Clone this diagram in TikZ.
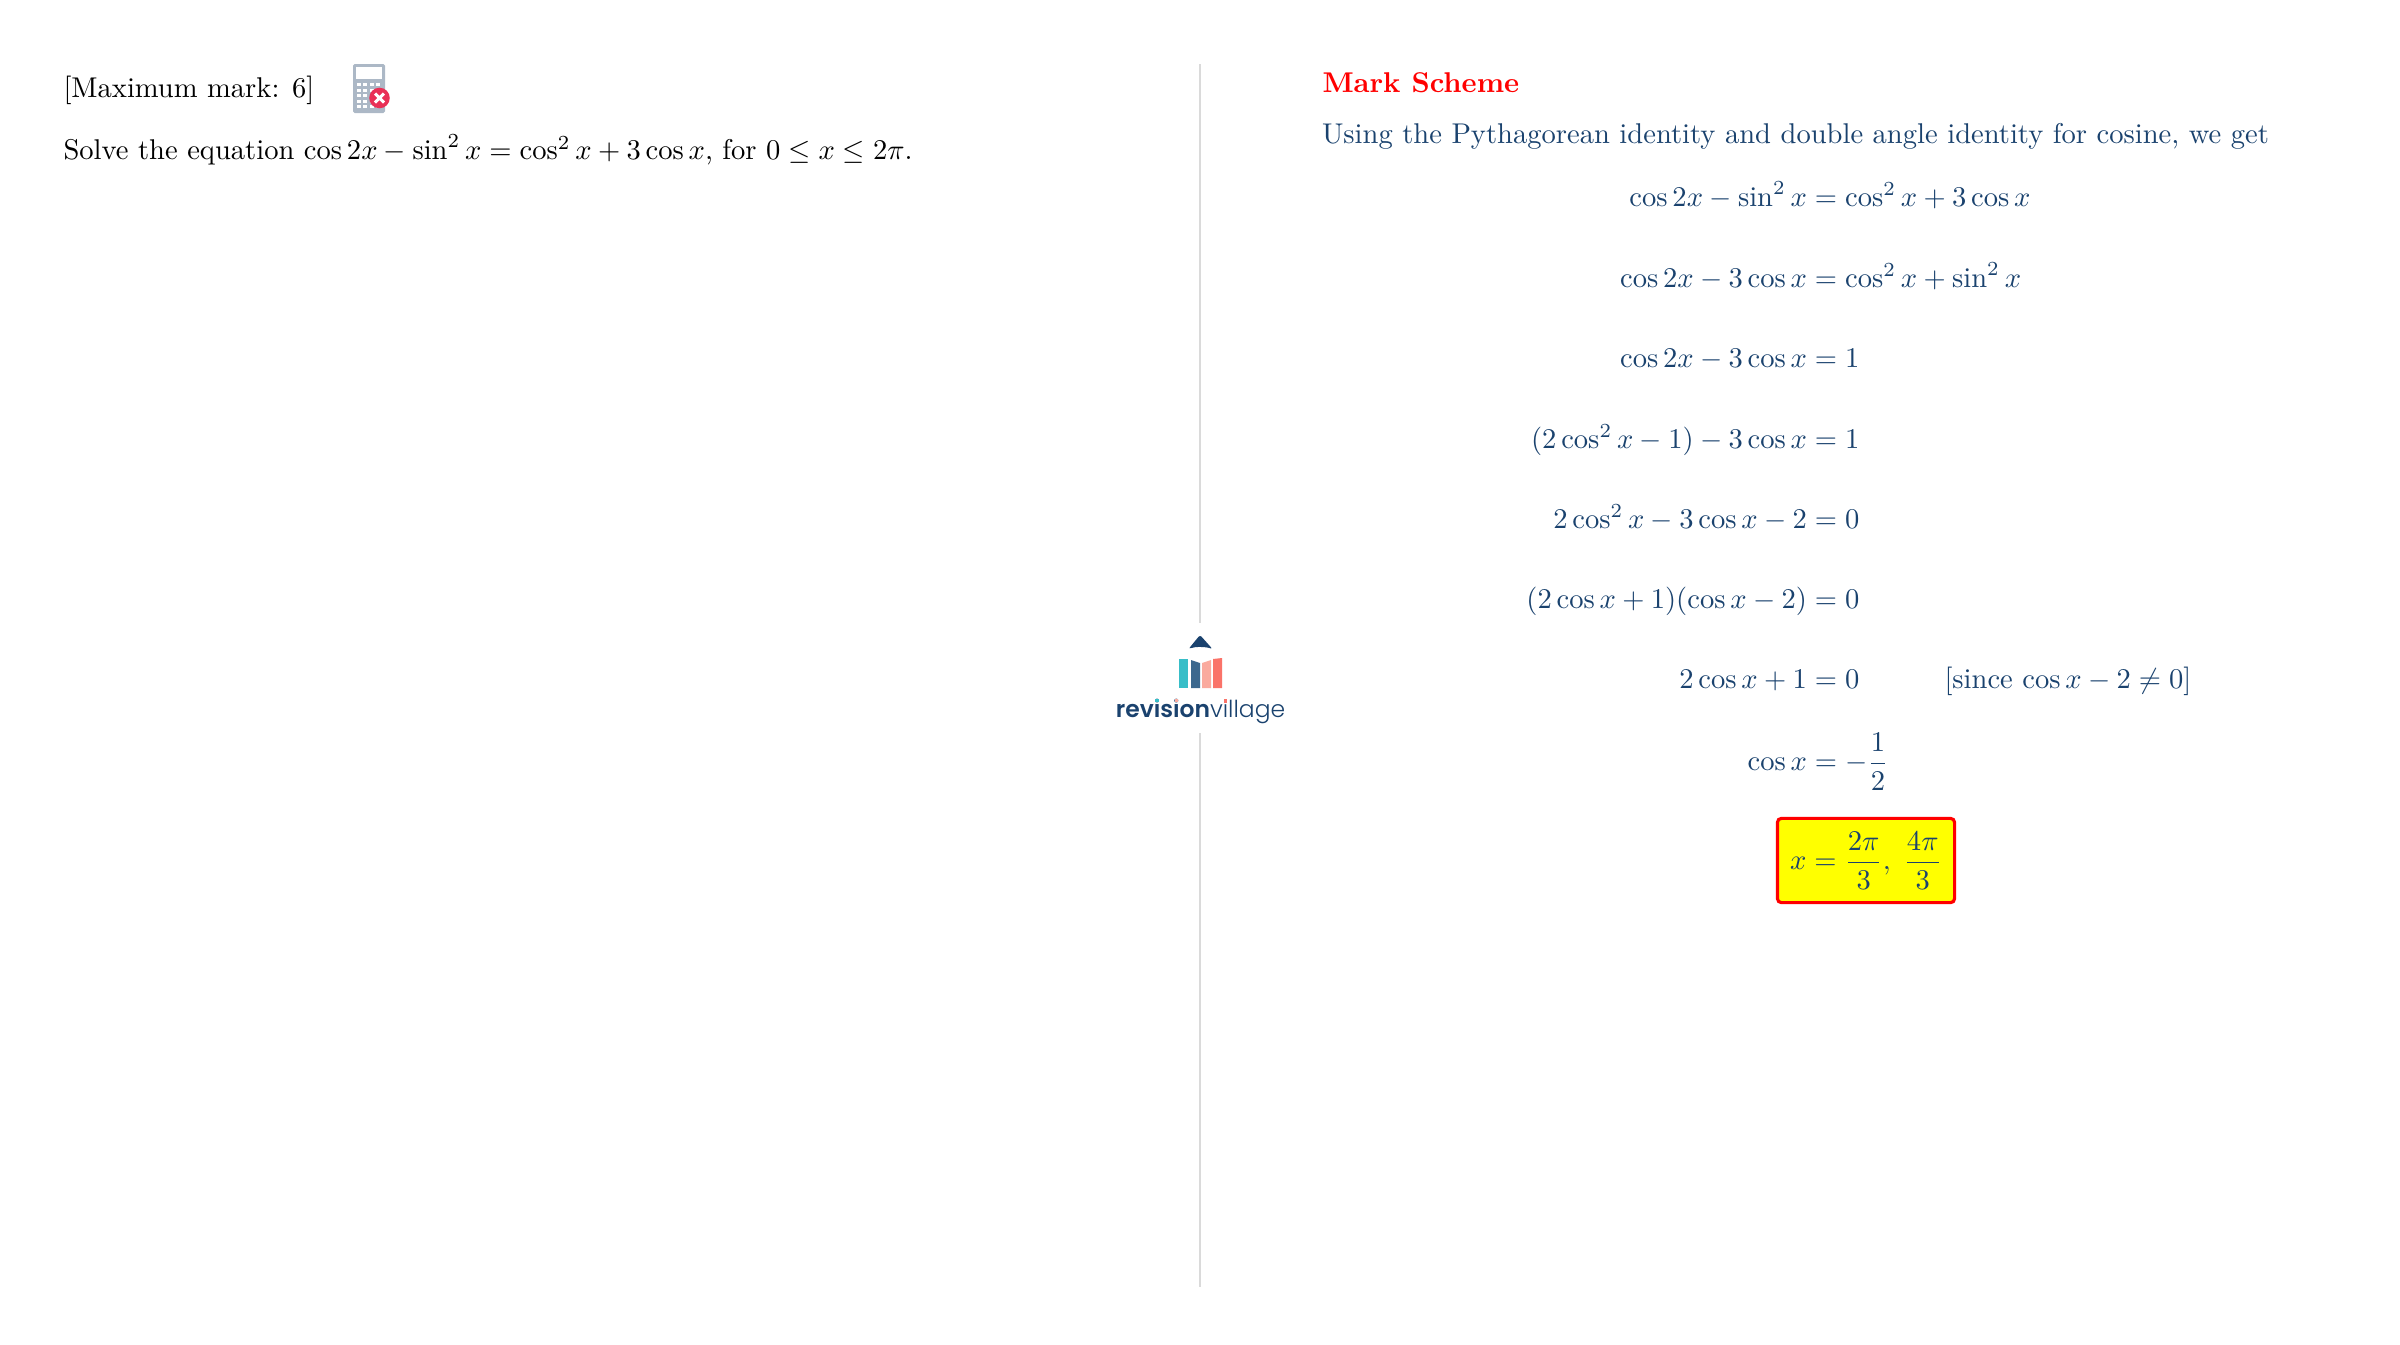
\documentclass[tikz,border=0pt]{standalone}
\usepackage{amsmath}
\usepackage{fontspec}
\usetikzlibrary{positioning}
\newfontfamily\logofont[UprightFont={* Light}, BoldFont={* SemiBold}]{Poppins}
\definecolor{schemeblue}{RGB}{26,66,110}
\definecolor{rulegray}{RGB}{218,218,218}
\definecolor{calcgray}{RGB}{172,184,198}
\definecolor{calcred}{RGB}{233,48,86}
\definecolor{logoteal}{RGB}{56,190,200}
\definecolor{logoblue}{RGB}{60,104,142}
\definecolor{logopink}{RGB}{250,170,158}
\definecolor{logocoral}{RGB}{250,115,105}
\definecolor{answeryellow}{RGB}{255,255,0}
\definecolor{headred}{RGB}{255,0,0}
\newcommand{\logoi}[1]{\sbox0{i}\rlap{i}\hbox to \wd0{\hss\raisebox{\dimexpr\ht0-1.2pt\relax}{\textcolor{#1}{\rule{1.2pt}{1.2pt}}}\hss}}
\tikzset{
        base/.style={inner sep=0pt, outer sep=0pt},
        plain/.style={base, anchor=base west},
        lhs/.style={base, anchor=base east, text=schemeblue},
        rhs/.style={base, anchor=base west, text=schemeblue},
        answer/.style={draw=headred, fill=answeryellow, line width=1.1pt, rounded corners=1.4pt,
                       text=schemeblue, inner sep=0pt, minimum width=62pt, minimum height=29.5pt},
        logotext/.style={base, anchor=base, text=schemeblue, font=\logofont\fontsize{8.2}{10}\selectfont},
}

\begin{document}
\begin{tikzpicture}[x=0.35pt, y=-0.35pt]
    \useasboundingbox (0,0) rectangle (2400,1345);

    % question side
    \node[plain] (mark) at (63.5,97.5) {[Maximum mark: 6]};
    \node[plain] (question) at (63.5,159.5) {Solve the equation $\cos 2x-\sin^2 x=\cos^2 x+3\cos x$, for $0\leq x\leq 2\pi$.};

    % calculator with cross
    \fill[calcgray, rounded corners=0.6pt] (353,64) rectangle (385,113);
    \fill[white] (356,67) rectangle (382,79);
    \foreach \row in {0,...,4}
      \foreach \col in {0,...,3}
        \fill[white] (357+6.4*\col,83+5.6*\row) rectangle ++(3.8,3);
    \fill[calcred] (379.5,98) circle [radius=3.6pt];
    \draw[white, line width=1pt] (375,93.5) -- (384,102.5) (384,93.5) -- (375,102.5);

    % middle rule and logo
    \coordinate (ruleA) at (1200,64);
    \coordinate (ruleB) at (1200,623);
    \coordinate (ruleC) at (1200,733);
    \coordinate (ruleD) at (1200,1287);
    \draw[rulegray, line width=0.4pt] (ruleA) -- (ruleB);
    \draw[rulegray, line width=0.4pt] (ruleC) -- (ruleD);

    \fill[schemeblue, rounded corners=0.8pt] (1200,635) -- (1212.5,649) .. controls (1205,646.5) and (1195,646.5) .. (1188.5,649) -- cycle;
    \fill[logoteal] (1179,659) rectangle (1188,688);
    \fill[logoblue] (1191,660) -- (1200,663) -- (1200,688) -- (1191,688) -- cycle;
    \fill[logopink] (1202,663) -- (1211,660) -- (1211,688) -- (1202,688) -- cycle;
    \fill[logocoral] (1213,659) -- (1222,658) -- (1222,688) -- (1213,688) -- cycle;
    \node[logotext] (logo) at (1200.5,717) {{\bfseries rev\logoi{logoteal}s\logoi{logopink}on}v\logoi{logocoral}llage};

    % mark scheme side
    \node[plain, text=headred] (scheme) at (1322.5,92) {\textbf{Mark Scheme}};
    \node[plain, text=schemeblue] (intro) at (1322,143) {Using the Pythagorean identity and double angle identity for cosine, we get};

    \node[lhs] (l1) at (1807,206) {$\cos 2x-\sin^2 x$};
    \node[rhs] (r1) at (1807,206) {${}=\cos^2 x+3\cos x$};
    \node[lhs] (l2) at (1807,287) {$\cos 2x-3\cos x$};
    \node[rhs] (r2) at (1807,287) {${}=\cos^2 x+\sin^2 x$};
    \node[lhs] (l3) at (1807,367) {$\cos 2x-3\cos x$};
    \node[rhs] (r3) at (1807,367) {${}=1$};
    \node[lhs] (l4) at (1807,448) {$(2\cos^2 x-1)-3\cos x$};
    \node[rhs] (r4) at (1807,448) {${}=1$};
    \node[lhs] (l5) at (1807,528) {$2\cos^2 x-3\cos x-2$};
    \node[rhs] (r5) at (1807,528) {${}=0$};
    \node[lhs] (l6) at (1807,608) {$(2\cos x+1)(\cos x-2)$};
    \node[rhs] (r6) at (1807,608) {${}=0$};
    \node[lhs] (l7) at (1807,688) {$2\cos x+1$};
    \node[rhs] (r7) at (1807,688) {${}=0$};
    \node[rhs] (since) at (1944.5,688) {[since $\cos x-2\neq 0$]};
    \node[lhs] (l8) at (1807,770.5) {$\cos x$};
    \node[rhs] (r8) at (1807,770.5) {${}=-\dfrac{1}{2}$};
    \node[answer] (result) at (1866,860.5) {$x=\dfrac{2\pi}{3},\;\dfrac{4\pi}{3}$};
\end{tikzpicture}
\end{document}
